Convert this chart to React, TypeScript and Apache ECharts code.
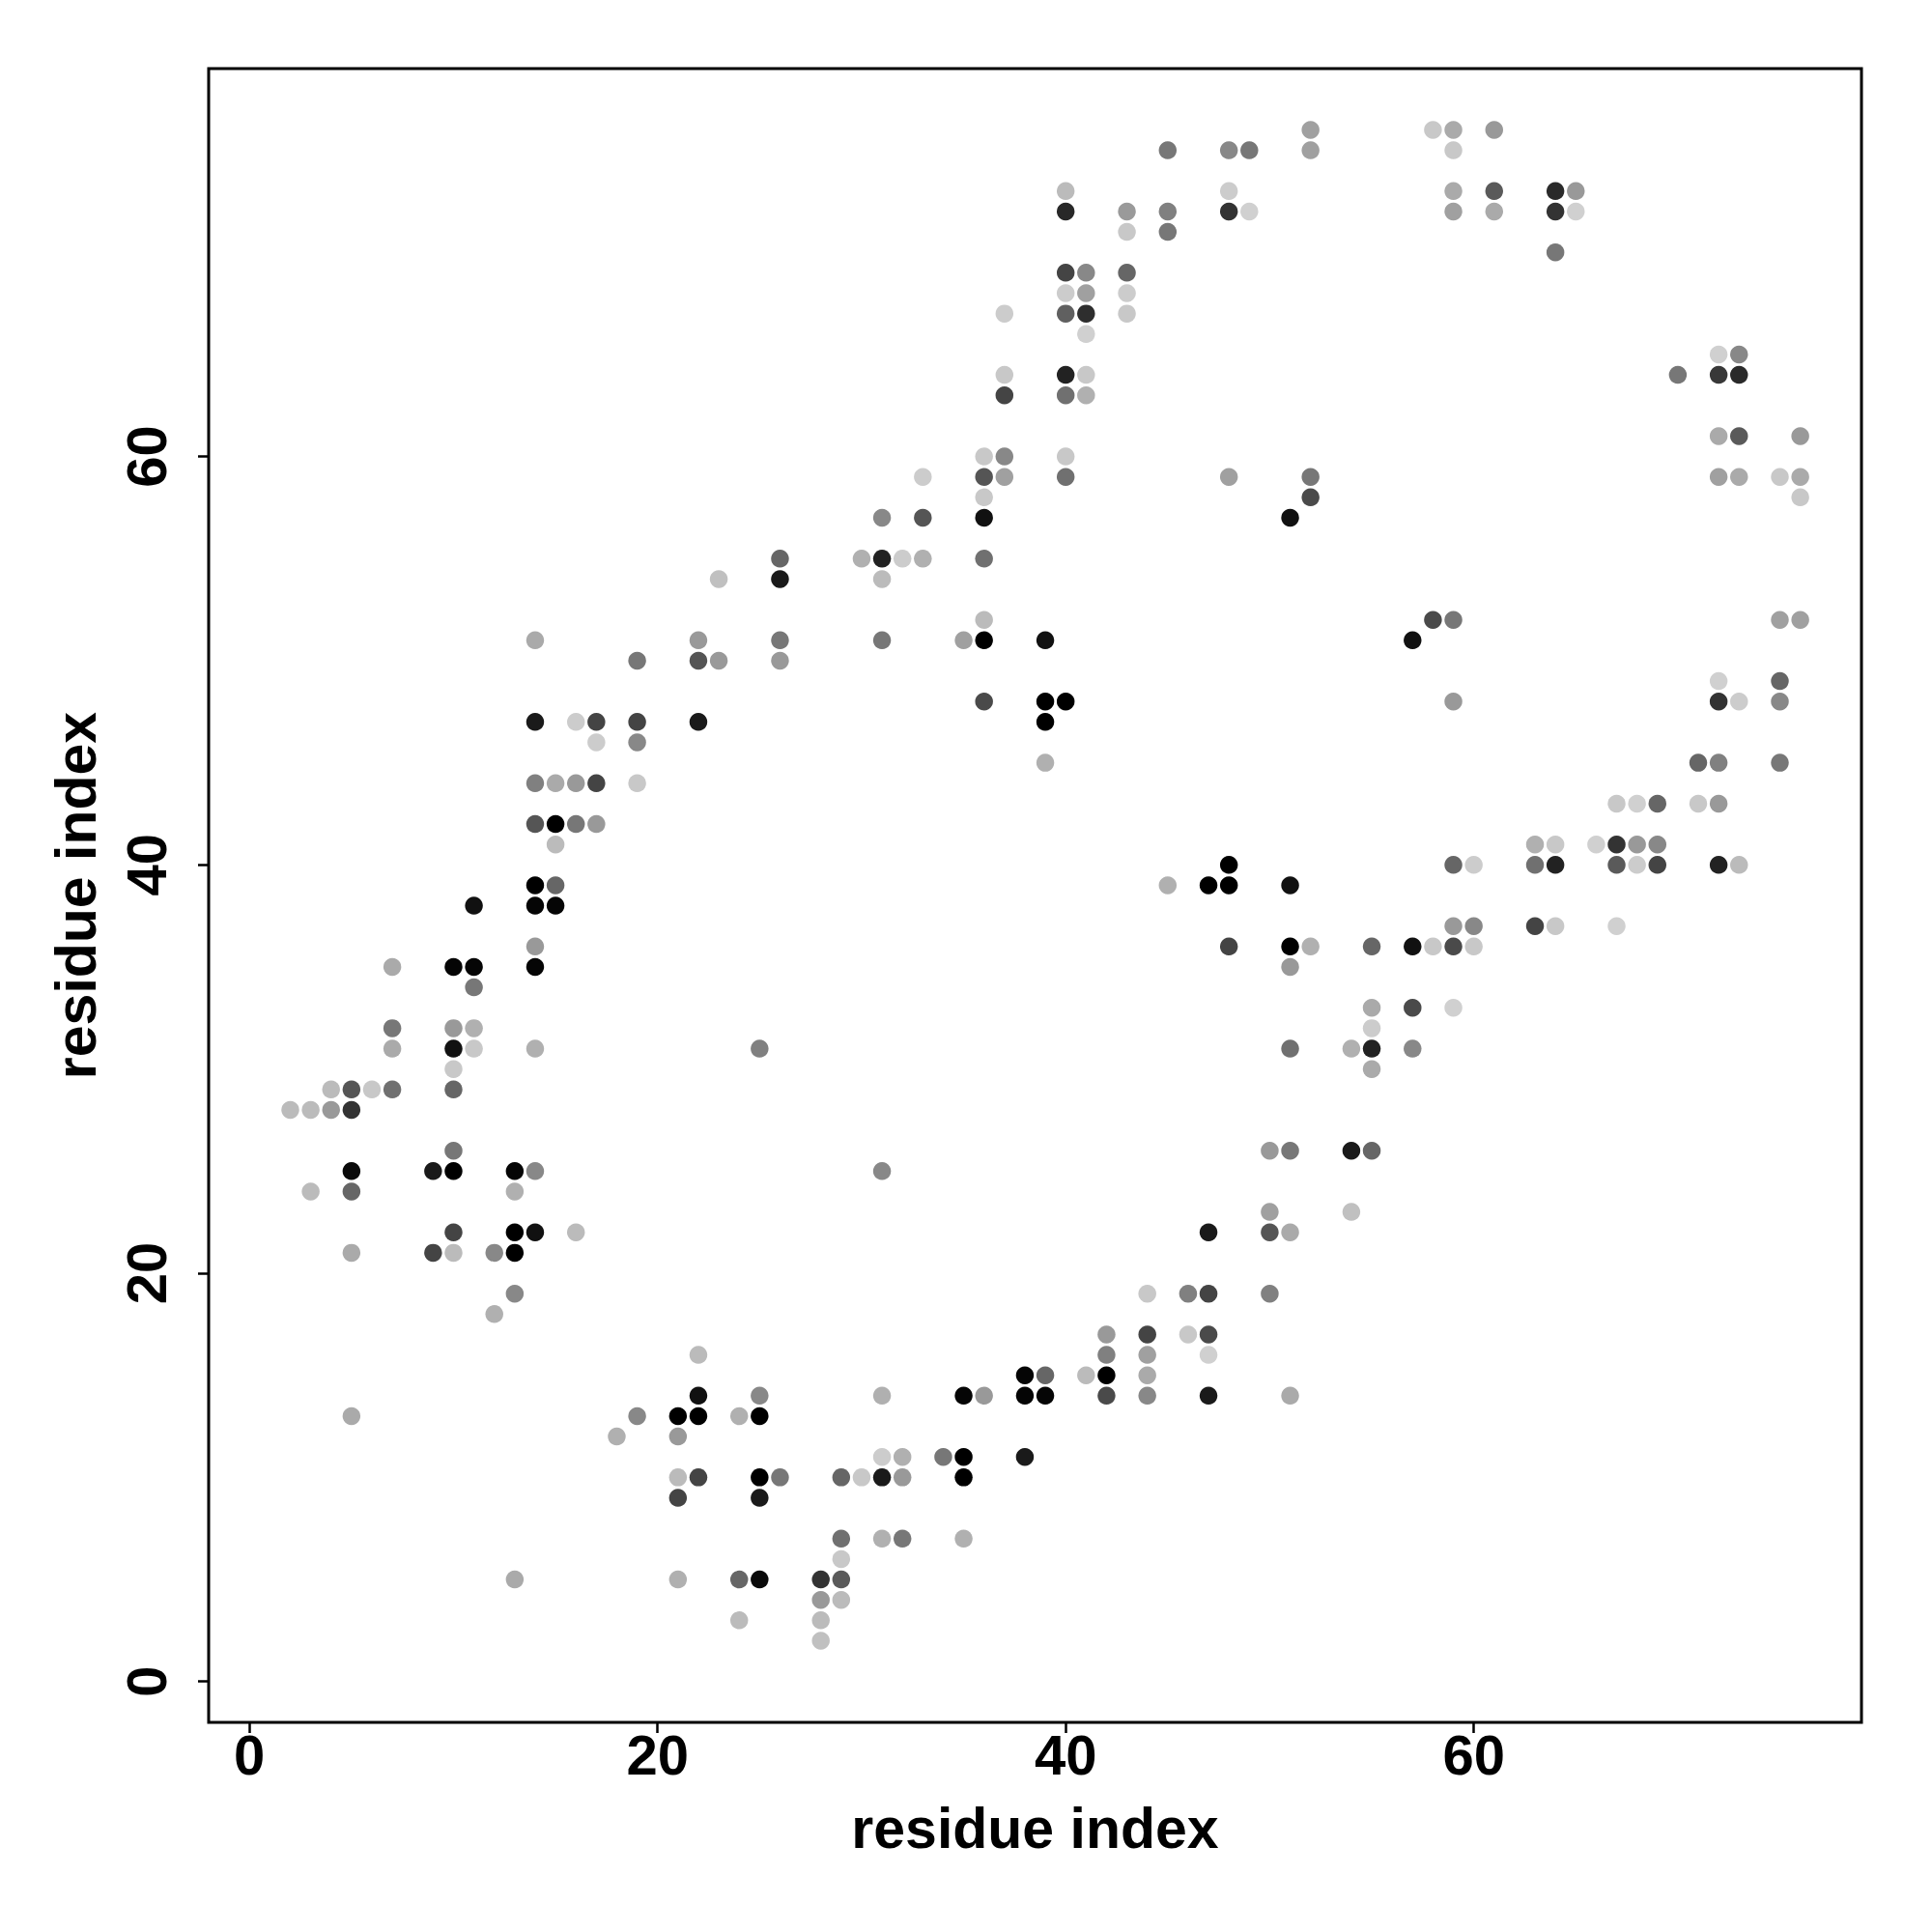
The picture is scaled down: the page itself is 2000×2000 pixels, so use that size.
import React, { useEffect, useRef } from "react";
import * as echarts from "echarts";

// residue i (x), residue j (y), grey level of the dot (0 = black, 255 = white)
const contacts: [number, number, number][] = [
  // j = 76
  [52, 76, 0xa0], [58, 76, 0xc8], [59, 76, 0xaa], [61, 76, 0x99],
  // j = 75
  [45, 75, 0x77], [48, 75, 0x88], [49, 75, 0x77], [52, 75, 0xa0], [59, 75, 0xc8],
  // j = 73
  [40, 73, 0xbb], [48, 73, 0xcc], [59, 73, 0xaa], [61, 73, 0x5a], [64, 73, 0x2a], [65, 73, 0x99],
  // j = 72
  [40, 72, 0x28], [43, 72, 0x9a], [45, 72, 0x80], [48, 72, 0x33], [49, 72, 0xd0],
  [59, 72, 0xa0], [61, 72, 0xaa], [64, 72, 0x33], [65, 72, 0xd0],
  // j = 71
  [43, 71, 0xc8], [45, 71, 0x77],
  // j = 70
  [64, 70, 0x77],
  // j = 69
  [40, 69, 0x44], [41, 69, 0x88], [43, 69, 0x66],
  // j = 68
  [40, 68, 0xcc], [41, 68, 0xa0], [43, 68, 0xcc],
  // j = 67
  [37, 67, 0xcc], [40, 67, 0x60], [41, 67, 0x2e], [43, 67, 0xc8],
  // j = 66
  [41, 66, 0xd0],
  // j = 65
  [72, 65, 0xd0], [73, 65, 0x88],
  // j = 64
  [37, 64, 0xc8], [40, 64, 0x22], [41, 64, 0xc8], [70, 64, 0x77], [72, 64, 0x38], [73, 64, 0x2a],
  // j = 63
  [37, 63, 0x44], [40, 63, 0x70], [41, 63, 0xb0],
  // j = 61
  [72, 61, 0xaa], [73, 61, 0x5a], [76, 61, 0x99],
  // j = 60
  [36, 60, 0xc8], [37, 60, 0x88], [40, 60, 0xc8],
  // j = 59
  [33, 59, 0xcc], [36, 59, 0x55], [37, 59, 0xa0], [40, 59, 0x70], [48, 59, 0xa0],
  [52, 59, 0x77], [72, 59, 0xa0], [73, 59, 0xaa], [75, 59, 0xc8], [76, 59, 0xaa],
  // j = 58
  [36, 58, 0xc8], [52, 58, 0x4a], [76, 58, 0xc8],
  // j = 57
  [31, 57, 0x88], [33, 57, 0x55], [36, 57, 0x11], [51, 57, 0x11],
  // j = 55
  [26, 55, 0x66], [30, 55, 0xb0], [31, 55, 0x22], [32, 55, 0xcc], [33, 55, 0xb0], [36, 55, 0x70],
  // j = 54
  [23, 54, 0xc0], [26, 54, 0x1a], [31, 54, 0xbb],
  // j = 52
  [36, 52, 0xbb], [58, 52, 0x4a], [59, 52, 0x77], [75, 52, 0xa0], [76, 52, 0xa0],
  // j = 51
  [14, 51, 0xaa], [22, 51, 0x99], [26, 51, 0x77], [31, 51, 0x77], [35, 51, 0xa0],
  [36, 51, 0x00], [39, 51, 0x11], [57, 51, 0x11],
  // j = 50
  [19, 50, 0x77], [22, 50, 0x55], [23, 50, 0x99], [26, 50, 0x99],
  // j = 49
  [72, 49, 0xd0], [75, 49, 0x66],
  // j = 48
  [36, 48, 0x4a], [39, 48, 0x00], [40, 48, 0x00], [59, 48, 0x99], [72, 48, 0x33], [73, 48, 0xcc], [75, 48, 0x88],
  // j = 47
  [14, 47, 0x1a], [16, 47, 0xcc], [17, 47, 0x44], [19, 47, 0x44], [22, 47, 0x1a], [39, 47, 0x00],
  // j = 46
  [17, 46, 0xcc], [19, 46, 0x88],
  // j = 45
  [39, 45, 0xb0], [71, 45, 0x66], [72, 45, 0x80], [75, 45, 0x77],
  // j = 44
  [14, 44, 0x80], [15, 44, 0xaa], [16, 44, 0x99], [17, 44, 0x44], [19, 44, 0xc8],
  // j = 43
  [67, 43, 0xc8], [68, 43, 0xd0], [69, 43, 0x66], [71, 43, 0xc8], [72, 43, 0x99],
  // j = 42
  [14, 42, 0x55], [15, 42, 0x00], [16, 42, 0x77], [17, 42, 0x99],
  // j = 41
  [15, 41, 0xbb], [63, 41, 0xb0], [64, 41, 0xc8], [66, 41, 0xd0], [67, 41, 0x33], [68, 41, 0x99], [69, 41, 0x88],
  // j = 40
  [48, 40, 0x00], [59, 40, 0x66], [60, 40, 0xcc], [63, 40, 0x70], [64, 40, 0x22],
  [67, 40, 0x5a], [68, 40, 0xcc], [69, 40, 0x44], [72, 40, 0x22], [73, 40, 0xbb],
  // j = 39
  [14, 39, 0x00], [15, 39, 0x66], [45, 39, 0xb0], [47, 39, 0x00], [48, 39, 0x00], [51, 39, 0x11],
  // j = 38
  [11, 38, 0x11], [14, 38, 0x05], [15, 38, 0x05],
  // j = 37
  [59, 37, 0x99], [60, 37, 0x88], [63, 37, 0x44], [64, 37, 0xc8], [67, 37, 0xd0],
  // j = 36
  [14, 36, 0x99], [48, 36, 0x44], [51, 36, 0x00], [52, 36, 0xb0], [55, 36, 0x66],
  [57, 36, 0x11], [58, 36, 0xc8], [59, 36, 0x4a], [60, 36, 0xc8],
  // j = 35
  [7, 35, 0xaa], [10, 35, 0x05], [11, 35, 0x05], [14, 35, 0x05], [51, 35, 0x99],
  // j = 34
  [11, 34, 0x77],
  // j = 33
  [55, 33, 0xaa], [57, 33, 0x4a], [59, 33, 0xd0],
  // j = 32
  [7, 32, 0x77], [10, 32, 0x99], [11, 32, 0xb0], [55, 32, 0xcc],
  // j = 31
  [7, 31, 0xaa], [10, 31, 0x11], [11, 31, 0xc8], [14, 31, 0xb0], [25, 31, 0x80],
  [51, 31, 0x70], [54, 31, 0xb0], [55, 31, 0x22], [57, 31, 0x88],
  // j = 30
  [10, 30, 0xc8], [55, 30, 0xaa],
  // j = 29
  [4, 29, 0xbb], [5, 29, 0x55], [6, 29, 0xc8], [7, 29, 0x70], [10, 29, 0x66],
  // j = 28
  [2, 28, 0xbb], [3, 28, 0xbb], [4, 28, 0x99], [5, 28, 0x33],
  // j = 26
  [10, 26, 0x77], [50, 26, 0x99], [51, 26, 0x77], [54, 26, 0x1a], [55, 26, 0x66],
  // j = 25
  [5, 25, 0x0a], [9, 25, 0x1a], [10, 25, 0x00], [13, 25, 0x05], [14, 25, 0x88], [31, 25, 0x88],
  // j = 24
  [3, 24, 0xbb], [5, 24, 0x66], [13, 24, 0xb0],
  // j = 23
  [50, 23, 0xa0], [54, 23, 0xc0],
  // j = 22
  [10, 22, 0x44], [13, 22, 0x00], [14, 22, 0x11], [16, 22, 0xbb], [47, 22, 0x1a], [50, 22, 0x55], [51, 22, 0xaa],
  // j = 21
  [5, 21, 0xaa], [9, 21, 0x44], [10, 21, 0xbb], [12, 21, 0x88], [13, 21, 0x00],
  // j = 19
  [13, 19, 0x88], [44, 19, 0xc8], [46, 19, 0x80], [47, 19, 0x44], [50, 19, 0x80],
  // j = 18
  [12, 18, 0xb0],
  // j = 17
  [42, 17, 0x99], [44, 17, 0x44], [46, 17, 0xc8], [47, 17, 0x4a],
  // j = 16
  [22, 16, 0xbb], [42, 16, 0x80], [44, 16, 0xa0], [47, 16, 0xd0],
  // j = 15
  [38, 15, 0x05], [39, 15, 0x66], [41, 15, 0xbb], [42, 15, 0x00], [44, 15, 0xaa],
  // j = 14
  [22, 14, 0x11], [25, 14, 0x88], [31, 14, 0xb0], [35, 14, 0x05], [36, 14, 0x99], [38, 14, 0x05],
  [39, 14, 0x05], [42, 14, 0x4a], [44, 14, 0x88], [47, 14, 0x1a], [51, 14, 0xaa],
  // j = 13
  [5, 13, 0xaa], [19, 13, 0x88], [21, 13, 0x00], [22, 13, 0x00], [24, 13, 0xb0], [25, 13, 0x00],
  // j = 12
  [18, 12, 0xb0], [21, 12, 0x99],
  // j = 11
  [31, 11, 0xcc], [32, 11, 0xb0], [34, 11, 0x77], [35, 11, 0x00], [38, 11, 0x1a],
  // j = 10
  [21, 10, 0xbb], [22, 10, 0x44], [25, 10, 0x00], [26, 10, 0x77], [29, 10, 0x66],
  [30, 10, 0xc8], [31, 10, 0x1a], [32, 10, 0x99], [35, 10, 0x00],
  // j = 9
  [21, 9, 0x44], [25, 9, 0x1a],
  // j = 7
  [29, 7, 0x70], [31, 7, 0xb0], [32, 7, 0x77], [35, 7, 0xb0],
  // j = 6
  [29, 6, 0xc8],
  // j = 5
  [13, 5, 0xaa], [21, 5, 0xb0], [24, 5, 0x66], [25, 5, 0x0a], [28, 5, 0x33], [29, 5, 0x5a],
  // j = 4
  [28, 4, 0x99], [29, 4, 0xbb],
  // j = 3
  [24, 3, 0xbb], [28, 3, 0xbb],
  // j = 2
  [28, 2, 0xc0],
];

const tickValues = [0, 20, 40, 60];
const axisRange = [-2, 79];
const axisTitle = "residue index";

const FONT = '"Liberation Sans", Arial, Helvetica, sans-serif';

function grey(level: number): string {
  const h = level.toString(16).padStart(2, "0");
  return "#" + h + h + h;
}

export default function App() {
  const ref = useRef<HTMLDivElement>(null);

  useEffect(() => {
    if (!ref.current) return;
    const chart = echarts.init(ref.current, undefined, { renderer: "svg" });

    const data = contacts.map(([i, j, g]) => ({
      value: [i, j],
      itemStyle: { color: grey(g) },
    }));

    const commonAxis = {
      type: "value" as const,
      min: axisRange[0],
      max: axisRange[1],
      splitLine: { show: false },
      axisLine: { show: false, onZero: false },
      axisTick: {
        show: true,
        customValues: tickValues,
        length: 11,
        lineStyle: { color: "#000", width: 2.5 },
      },
      name: axisTitle,
      nameLocation: "middle" as const,
      nameTextStyle: {
        fontSize: 59,
        fontWeight: "bold" as const,
        color: "#000",
        fontFamily: FONT,
      },
    };

    chart.setOption({
      animation: false,
      backgroundColor: "#fff",
      grid: {
        left: 216,
        top: 71,
        right: 73,
        bottom: 217,
        show: true,
        borderColor: "#000",
        borderWidth: 3,
        backgroundColor: "transparent",
      },
      xAxis: {
        ...commonAxis,
        nameGap: 80,
        axisLabel: {
          customValues: tickValues,
          fontSize: 58,
          fontWeight: "bold",
          color: "#000",
          fontFamily: FONT,
          margin: 4,
        },
      },
      yAxis: {
        ...commonAxis,
        nameGap: 108,
        axisLabel: {
          customValues: tickValues,
          fontSize: 58,
          fontWeight: "bold",
          color: "#000",
          fontFamily: FONT,
          rotate: 90,
          margin: 36,
        },
      },
      series: [
        {
          type: "scatter",
          symbol: "circle",
          symbolSize: 18.5,
          data,
          itemStyle: { opacity: 1 },
          emphasis: { disabled: true },
        },
      ],
    });

    return () => chart.dispose();
  }, []);

  return (
    <div
      ref={ref}
      style={{ position: "absolute", left: 0, top: 0, width: 2000, height: 2000 }}
    />
  );
}
